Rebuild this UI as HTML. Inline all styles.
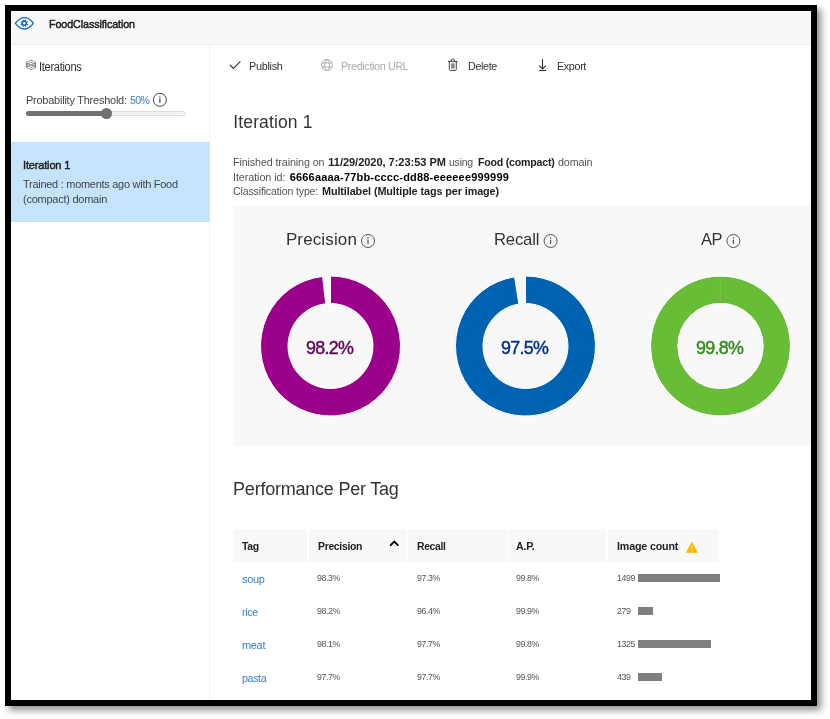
<!DOCTYPE html>
<html lang="en"><head><meta charset="utf-8"><title>FoodClassification</title>
<style>
html,body{margin:0;padding:0;background:#fff;}
body{width:830px;height:719px;position:relative;overflow:hidden;font-family:"Liberation Sans", sans-serif;}
.frame{position:absolute;left:5px;top:5px;width:800px;height:689px;border:6px solid #000;box-shadow:4px 4px 7px rgba(0,0,0,.45);background:#fff;clip-path:inset(0 -30px -30px 0);}
.app{position:absolute;left:0;top:0;width:830px;height:719px;}
.t{position:absolute;white-space:pre;transform-origin:0 0;}
.hdr{position:absolute;left:11px;top:11px;width:800px;height:33px;background:#f8f8f8;border-bottom:1px solid #eee;}
.side{position:absolute;left:11px;top:45px;width:198.4px;height:655px;background:#fff;border-right:1.2px solid #f2f2f2;}
.sel{position:absolute;left:11px;top:142.1px;width:198.8px;height:80.2px;background:#c4e4fc;}
.panel{position:absolute;left:233px;top:206px;width:578px;height:240.4px;background:#f8f8f8;}
.th{position:absolute;top:528.5px;height:33.2px;background:#f8f8f8;}
.bar{position:absolute;left:638px;height:8px;background:#808080;}
.track{position:absolute;left:26px;top:110.7px;width:158px;height:3.8px;border:1px solid #ddd;border-radius:4px;background:#f2f2f2;box-sizing:content-box}
.fill{position:absolute;left:26px;top:110.9px;width:80px;height:5.4px;border-radius:3px;background:#717171;}
.thumb{position:absolute;left:100.9px;top:107.9px;width:11px;height:11.2px;border-radius:50%;background:#717171;}
svg{position:absolute;left:0;top:0;}
</style></head><body>
<div class="frame"></div>
<div class="app">
<div class="hdr"></div>
<div class="side"></div>
<div class="sel"></div>
<div class="track"></div><div class="fill"></div><div class="thumb"></div>
<div class="panel"></div>
<div class="th" style="left:233px;width:74px"></div>
<div class="th" style="left:308.5px;width:98px"></div>
<div class="th" style="left:408.3px;width:98.3px"></div>
<div class="th" style="left:508px;width:98px"></div>
<div class="th" style="left:607.8px;width:111.4px"></div>
<div class="bar" style="top:573.7px;width:82.0px"></div><div class="bar" style="top:606.7px;width:15.3px"></div><div class="bar" style="top:639.7px;width:72.5px"></div><div class="bar" style="top:672.7px;width:24.0px"></div>
<svg width="830" height="719" viewBox="0 0 830 719">
<path d="M330.50 276.00 A70 70 0 1 1 322.60 276.45 L325.70 303.77 A42.5 42.5 0 1 0 330.50 303.50Z" fill="#9a0089" stroke="#fff" stroke-width="1" stroke-linejoin="round"/>
<path d="M525.50 276.00 A70 70 0 1 1 514.55 276.86 L518.85 304.02 A42.5 42.5 0 1 0 525.50 303.50Z" fill="#0063b1" stroke="#fff" stroke-width="1" stroke-linejoin="round"/>
<circle cx="720.5" cy="346" r="56.25" fill="none" stroke="#68bd36" stroke-width="26.5"/><circle cx="720.5" cy="346" r="70" fill="none" stroke="#fff" stroke-width="1"/><circle cx="720.5" cy="346" r="42.5" fill="none" stroke="#fff" stroke-width="1"/><path d="M720.3 277V303" stroke="#fff" stroke-opacity="0.13" stroke-width="1"/>
<path d="M15.4 23.3 C19 18.6 22 17.6 24.4 17.6 C26.8 17.6 29.8 18.6 33.4 23.3 C29.8 28 26.8 29 24.4 29 C22 29 19 28 15.4 23.3Z" fill="#fff" stroke="#1068bf" stroke-width="1.3" stroke-linejoin="round"/><path d="M25.15 19.49 L26.39 20.01 L25.95 21.03 L26.57 21.65 L27.59 21.21 L28.11 22.45 L27.07 22.86 L27.07 23.74 L28.11 24.15 L27.59 25.39 L26.57 24.95 L25.95 25.57 L26.39 26.59 L25.15 27.11 L24.74 26.07 L23.86 26.07 L23.45 27.11 L22.21 26.59 L22.65 25.57 L22.03 24.95 L21.01 25.39 L20.49 24.15 L21.53 23.74 L21.53 22.86 L20.49 22.45 L21.01 21.21 L22.03 21.65 L22.65 21.03 L22.21 20.01 L23.45 19.49 L23.86 20.53 L24.74 20.53Z M23.0 23.3 a1.3 1.3 0 1 0 2.6 0 a1.3 1.3 0 1 0 -2.6 0Z" fill="#1068bf" fill-rule="evenodd"/><path d="M31 60.0 L36 62.6 L31 65.2 L26 62.6Z" fill="none" stroke="#777" stroke-width="0.8" stroke-linejoin="round"/><path d="M31 62.3 L36 64.9 L31 67.5 L26 64.9Z" fill="none" stroke="#777" stroke-width="0.8" stroke-linejoin="round"/><path d="M31 64.6 L36 67.2 L31 69.8 L26 67.2Z" fill="none" stroke="#777" stroke-width="0.8" stroke-linejoin="round"/><path d="M26.4 62.6V67.2M35.6 62.6V67.2" stroke="#777" stroke-width="0.9"/><circle cx="159.9" cy="99.8" r="6.5" fill="none" stroke="#444" stroke-width="1"/><rect x="159.3" y="98.5" width="1.2" height="4.3" fill="#444"/><rect x="159.3" y="96.2" width="1.2" height="1.3" fill="#444"/><circle cx="368" cy="241" r="6.5" fill="none" stroke="#555" stroke-width="1"/><rect x="367.4" y="239.7" width="1.2" height="4.3" fill="#555"/><rect x="367.4" y="237.4" width="1.2" height="1.3" fill="#555"/><circle cx="550.6" cy="241" r="6.5" fill="none" stroke="#555" stroke-width="1"/><rect x="550.0" y="239.7" width="1.2" height="4.3" fill="#555"/><rect x="550.0" y="237.4" width="1.2" height="1.3" fill="#555"/><circle cx="733.4" cy="241" r="6.5" fill="none" stroke="#555" stroke-width="1"/><rect x="732.8" y="239.7" width="1.2" height="4.3" fill="#555"/><rect x="732.8" y="237.4" width="1.2" height="1.3" fill="#555"/><path d="M230 65 L233.4 68.4 L240.4 61.4" fill="none" stroke="#333" stroke-width="1.1"/><g fill="none" stroke="#aaa" stroke-width="0.9"><circle cx="327" cy="65" r="5.5"/><ellipse cx="327" cy="65" rx="2.4" ry="5.5"/><path d="M322 63H332M322 67H332"/></g><g fill="none" stroke="#444" stroke-width="1"><path d="M447.9 61.4H457.6"/><path d="M449.3 61.4V69.4a1 1 0 0 0 1 1H455.3a1 1 0 0 0 1 -1V61.4"/><path d="M450.9 61.2a1.9 2.2 0 0 1 3.8 0"/></g><rect x="451" y="63.3" width="3.7" height="5.3" fill="#8a8a8a"/><g fill="none" stroke="#333" stroke-width="1.1"><path d="M542.5 59V68.6"/><path d="M539.2 65.6L542.5 68.9L545.9 65.6"/><path d="M539.2 70.5H546"/></g><path d="M390.7 545.2 L394.3 541.5 L397.9 545.2" fill="none" stroke="#000" stroke-width="1.8" stroke-linecap="round"/><path d="M691.8 541.6 L697.8 552.8 L685.8 552.8Z" fill="#ffb900"/><rect x="691.3" y="545.5" width="1" height="4" fill="#ffdc7a"/><rect x="691.3" y="550.3" width="1" height="1" fill="#ffdc7a"/>
</svg>
<span class="t" style="left:49.3px;top:17.4px;font-size:11px;line-height:14px;color:#1a1a1a;-webkit-text-stroke:0.45px #1a1a1a;letter-spacing:-0.11px;transform:scaleX(0.978);">FoodClassification</span>
<span class="t" style="left:39.4px;top:58.5px;font-size:12px;line-height:16px;color:#333;letter-spacing:-0.36px;transform:scaleX(0.930);">Iterations</span>
<span class="t" style="left:25.6px;top:92.8px;font-size:11.5px;line-height:15px;color:#444;letter-spacing:-0.24px;transform:scaleX(0.953);">Probability Threshold:</span>
<span class="t" style="left:129.8px;top:92.8px;font-size:11.5px;line-height:15px;color:#3a7fc4;letter-spacing:-0.74px;transform:scaleX(0.920);">50%</span>
<span class="t" style="left:22.9px;top:157.7px;font-size:11.5px;line-height:15px;color:#222;-webkit-text-stroke:0.45px #222;letter-spacing:-0.19px;transform:scaleX(0.962);">Iteration 1</span>
<span class="t" style="left:23.2px;top:176.7px;font-size:11.5px;line-height:15px;color:#444;letter-spacing:-0.27px;transform:scaleX(0.952);">Trained : moments ago with Food</span>
<span class="t" style="left:22.7px;top:191.5px;font-size:11.5px;line-height:15px;color:#444;letter-spacing:-0.26px;transform:scaleX(0.956);">(compact) domain</span>
<span class="t" style="left:249.2px;top:59.0px;font-size:11.5px;line-height:15px;color:#333;letter-spacing:-0.32px;transform:scaleX(0.945);">Publish</span>
<span class="t" style="left:340.6px;top:59.0px;font-size:11.5px;line-height:15px;color:#aaa;letter-spacing:-0.37px;transform:scaleX(0.935);">Prediction URL</span>
<span class="t" style="left:468.4px;top:59.0px;font-size:11.5px;line-height:15px;color:#333;letter-spacing:-0.38px;transform:scaleX(0.937);">Delete</span>
<span class="t" style="left:557.0px;top:59.0px;font-size:11.5px;line-height:15px;color:#333;letter-spacing:-0.38px;transform:scaleX(0.937);">Export</span>
<span class="t" style="left:233.3px;top:111.0px;font-size:17.5px;line-height:23px;color:#333;letter-spacing:0.13px;">Iteration 1</span>
<span class="t" style="left:233.4px;top:154.6px;font-size:11px;line-height:14px;color:#555;letter-spacing:-0.12px;transform:scaleX(0.976);">Finished training on</span>
<span class="t" style="left:328.3px;top:154.6px;font-size:11px;line-height:14px;color:#222;font-weight:700;letter-spacing:-0.02px;">11/29/2020, 7:23:53 PM</span>
<span class="t" style="left:449.4px;top:154.6px;font-size:11px;line-height:14px;color:#555;letter-spacing:-0.25px;transform:scaleX(0.957);">using</span>
<span class="t" style="left:477.6px;top:154.6px;font-size:11px;line-height:14px;color:#222;font-weight:700;letter-spacing:-0.22px;transform:scaleX(0.964);">Food (compact)</span>
<span class="t" style="left:557.8px;top:154.6px;font-size:11px;line-height:14px;color:#555;letter-spacing:-0.15px;transform:scaleX(0.978);">domain</span>
<span class="t" style="left:233.4px;top:169.7px;font-size:11px;line-height:14px;color:#555;letter-spacing:-0.08px;transform:scaleX(0.981);">Iteration id:</span>
<span class="t" style="left:289.7px;top:169.7px;font-size:11px;line-height:14px;color:#000;font-weight:700;letter-spacing:0.18px;">6666aaaa-77bb-cccc-dd88-eeeeee999999</span>
<span class="t" style="left:233.4px;top:184.4px;font-size:11px;line-height:14px;color:#555;letter-spacing:-0.17px;transform:scaleX(0.964);">Classification type:</span>
<span class="t" style="left:322.0px;top:184.4px;font-size:11px;line-height:14px;color:#222;font-weight:700;letter-spacing:-0.09px;transform:scaleX(0.983);">Multilabel (Multiple tags per image)</span>
<span class="t" style="left:285.9px;top:229.1px;font-size:17px;line-height:22px;color:#333;letter-spacing:0.13px;">Precision</span>
<span class="t" style="left:493.9px;top:229.1px;font-size:17px;line-height:22px;color:#333;letter-spacing:-0.18px;transform:scaleX(0.979);">Recall</span>
<span class="t" style="left:701.3px;top:229.1px;font-size:17px;line-height:22px;color:#333;letter-spacing:-0.50px;transform:scaleX(0.967);">AP</span>
<span class="t" style="left:306.4px;top:334.8px;font-size:19px;line-height:25px;color:#5e0059;-webkit-text-stroke:0.45px #5e0059;letter-spacing:-0.74px;transform:scaleX(0.938);">98.2%</span>
<span class="t" style="left:501.4px;top:334.8px;font-size:19px;line-height:25px;color:#002f7d;-webkit-text-stroke:0.45px #002f7d;letter-spacing:-0.74px;transform:scaleX(0.938);">97.5%</span>
<span class="t" style="left:696.4px;top:334.8px;font-size:19px;line-height:25px;color:#2f8a17;-webkit-text-stroke:0.45px #2f8a17;letter-spacing:-0.74px;transform:scaleX(0.938);">99.8%</span>
<span class="t" style="left:233.1px;top:477.9px;font-size:18px;line-height:23px;color:#333;letter-spacing:-0.23px;">Performance Per Tag</span>
<span class="t" style="left:241.8px;top:538.5px;font-size:11px;line-height:14px;color:#222;font-weight:700;letter-spacing:-0.38px;transform:scaleX(0.949);">Tag</span>
<span class="t" style="left:317.6px;top:538.5px;font-size:11px;line-height:14px;color:#222;font-weight:700;letter-spacing:-0.32px;transform:scaleX(0.946);">Precision</span>
<span class="t" style="left:416.8px;top:538.5px;font-size:11px;line-height:14px;color:#222;font-weight:700;letter-spacing:-0.34px;transform:scaleX(0.942);">Recall</span>
<span class="t" style="left:516.2px;top:538.5px;font-size:11px;line-height:14px;color:#222;font-weight:700;letter-spacing:-0.20px;transform:scaleX(0.965);">A.P.</span>
<span class="t" style="left:617.3px;top:538.5px;font-size:11px;line-height:14px;color:#222;font-weight:700;letter-spacing:-0.17px;transform:scaleX(0.973);">Image count</span>
<span class="t" style="left:241.6px;top:571.9px;font-size:11.5px;line-height:15px;color:#3a7fc4;letter-spacing:-0.33px;transform:scaleX(0.954);">soup</span>
<span class="t" style="left:317.2px;top:571.6px;font-size:9.5px;line-height:12px;color:#555;letter-spacing:-0.44px;transform:scaleX(0.926);">98.3%</span>
<span class="t" style="left:416.7px;top:571.6px;font-size:9.5px;line-height:12px;color:#555;letter-spacing:-0.44px;transform:scaleX(0.926);">97.3%</span>
<span class="t" style="left:516.2px;top:571.6px;font-size:9.5px;line-height:12px;color:#555;letter-spacing:-0.44px;transform:scaleX(0.926);">99.8%</span>
<span class="t" style="left:617.0px;top:571.6px;font-size:9.5px;line-height:12px;color:#555;letter-spacing:-0.42px;transform:scaleX(0.930);">1499</span>
<span class="t" style="left:241.6px;top:604.9px;font-size:11.5px;line-height:15px;color:#3a7fc4;letter-spacing:-0.36px;transform:scaleX(0.932);">rice</span>
<span class="t" style="left:317.2px;top:604.6px;font-size:9.5px;line-height:12px;color:#555;letter-spacing:-0.44px;transform:scaleX(0.926);">98.2%</span>
<span class="t" style="left:416.7px;top:604.6px;font-size:9.5px;line-height:12px;color:#555;letter-spacing:-0.44px;transform:scaleX(0.926);">96.4%</span>
<span class="t" style="left:516.2px;top:604.6px;font-size:9.5px;line-height:12px;color:#555;letter-spacing:-0.44px;transform:scaleX(0.926);">99.9%</span>
<span class="t" style="left:617.0px;top:604.6px;font-size:9.5px;line-height:12px;color:#555;letter-spacing:-0.43px;transform:scaleX(0.933);">279</span>
<span class="t" style="left:241.6px;top:637.9px;font-size:11.5px;line-height:15px;color:#3a7fc4;letter-spacing:-0.33px;transform:scaleX(0.954);">meat</span>
<span class="t" style="left:317.2px;top:637.6px;font-size:9.5px;line-height:12px;color:#555;letter-spacing:-0.44px;transform:scaleX(0.926);">98.1%</span>
<span class="t" style="left:416.7px;top:637.6px;font-size:9.5px;line-height:12px;color:#555;letter-spacing:-0.44px;transform:scaleX(0.926);">97.7%</span>
<span class="t" style="left:516.2px;top:637.6px;font-size:9.5px;line-height:12px;color:#555;letter-spacing:-0.44px;transform:scaleX(0.926);">99.8%</span>
<span class="t" style="left:617.0px;top:637.6px;font-size:9.5px;line-height:12px;color:#555;letter-spacing:-0.42px;transform:scaleX(0.930);">1325</span>
<span class="t" style="left:241.6px;top:670.9px;font-size:11.5px;line-height:15px;color:#3a7fc4;letter-spacing:-0.42px;transform:scaleX(0.933);">pasta</span>
<span class="t" style="left:317.2px;top:670.6px;font-size:9.5px;line-height:12px;color:#555;letter-spacing:-0.44px;transform:scaleX(0.926);">97.7%</span>
<span class="t" style="left:416.7px;top:670.6px;font-size:9.5px;line-height:12px;color:#555;letter-spacing:-0.44px;transform:scaleX(0.926);">97.7%</span>
<span class="t" style="left:516.2px;top:670.6px;font-size:9.5px;line-height:12px;color:#555;letter-spacing:-0.44px;transform:scaleX(0.926);">99.9%</span>
<span class="t" style="left:617.0px;top:670.6px;font-size:9.5px;line-height:12px;color:#555;letter-spacing:-0.43px;transform:scaleX(0.933);">439</span>
</div>
</body></html>
